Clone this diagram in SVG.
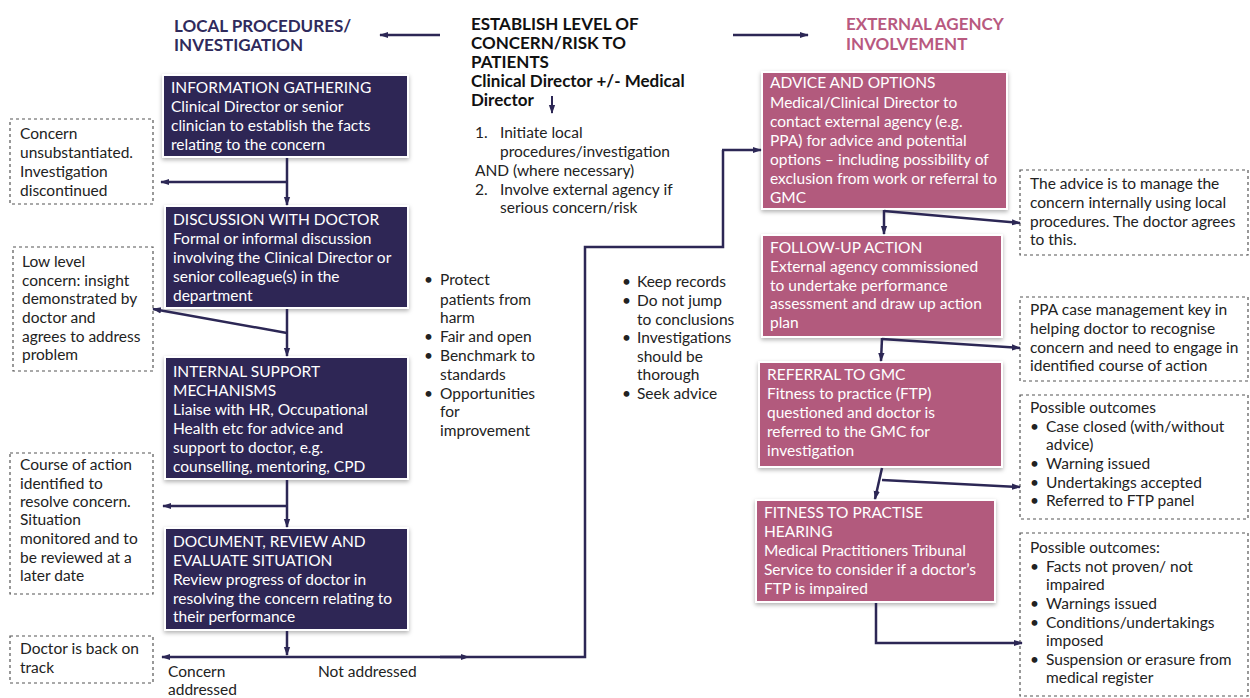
<svg xmlns="http://www.w3.org/2000/svg" width="1250" height="698" viewBox="0 0 1250 698">
<defs>
<filter id="sh" x="-10%" y="-10%" width="120%" height="130%">
<feDropShadow dx="0" dy="2" stdDeviation="2" flood-color="#000" flood-opacity="0.3"/>
</filter>
<marker id="ah" viewBox="0 0 10 10" refX="9" refY="5" markerWidth="9" markerHeight="9" orient="auto" markerUnits="userSpaceOnUse">
<path d="M0,1.5 L10,5 L0,8.5 z" fill="#2c2755"/>
</marker>
<marker id="ahm" viewBox="0 0 10 10" refX="5" refY="5" markerWidth="9" markerHeight="9" orient="auto" markerUnits="userSpaceOnUse">
<path d="M0,1.5 L10,5 L0,8.5 z" fill="#2c2755"/>
</marker>
<style>
text{font-family:Lato,"Liberation Sans",sans-serif;font-size:15.5px;}
.hd{font-weight:bold;font-size:17px;}
.nav{fill:#2d2654;stroke:#fff;stroke-width:2;filter:url(#sh);}
.pnk{fill:#b25a7d;stroke:#fff;stroke-width:2;filter:url(#sh);}
.wt{fill:#fff;}
.dk{fill:#222;}
.dash{fill:none;stroke:#555;stroke-width:1.2;stroke-dasharray:3 3;}
.ln{fill:none;stroke:#2c2755;stroke-width:2.5;}
.ar{marker-end:url(#ah);}
</style>
</defs>
<rect width="1250" height="698" fill="#fff"/>

<g id="headers">
<text class="hd" fill="#2f2a5c" x="174" y="32">LOCAL PROCEDURES/<tspan x="174" y="51">INVESTIGATION</tspan></text>
<text class="hd" fill="#b8597f" x="846" y="30">EXTERNAL AGENCY<tspan x="846" y="50">INVOLVEMENT</tspan></text>
</g>

<g id="establish">
<text class="hd" fill="#111" x="471" y="30">ESTABLISH LEVEL OF<tspan x="471" y="49">CONCERN/RISK TO</tspan><tspan x="471" y="68">PATIENTS</tspan><tspan x="471" y="87">Clinical Director +/- Medical</tspan><tspan x="471" y="106">Director</tspan></text>
<text class="dk" x="475" y="138">1.<tspan x="500">Initiate local</tspan><tspan x="500" y="157">procedures/investigation</tspan><tspan x="475" y="176">AND (where necessary)</tspan><tspan x="475" y="195">2.</tspan><tspan x="500" y="195">Involve external agency if</tspan><tspan x="500" y="213">serious concern/risk</tspan></text>
</g>

<g id="n-info">
<rect class="nav" x="163" y="75" width="245" height="82"/>
<text class="wt" x="171" y="93">INFORMATION GATHERING<tspan x="171" y="112">Clinical Director or senior</tspan><tspan x="171" y="131">clinician to establish the facts</tspan><tspan x="171" y="150">relating to the concern</tspan></text>
</g>
<g id="n-discussion">
<rect class="nav" x="165" y="206" width="243" height="102"/>
<text class="wt" x="173" y="225">DISCUSSION WITH DOCTOR<tspan x="173" y="244">Formal or informal discussion</tspan><tspan x="173" y="263">involving the Clinical Director or</tspan><tspan x="173" y="282">senior colleague(s) in the</tspan><tspan x="173" y="301">department</tspan></text>
</g>
<g id="n-internal">
<rect class="nav" x="165" y="357" width="243" height="122"/>
<text class="wt" x="173" y="377">INTERNAL SUPPORT<tspan x="173" y="396">MECHANISMS</tspan><tspan x="173" y="415">Liaise with HR, Occupational</tspan><tspan x="173" y="434">Health etc for advice and</tspan><tspan x="173" y="453">support to doctor, e.g.</tspan><tspan x="173" y="472">counselling, mentoring, CPD</tspan></text>
</g>
<g id="n-document">
<rect class="nav" x="165" y="528" width="243" height="102"/>
<text class="wt" x="173" y="547">DOCUMENT, REVIEW AND<tspan x="173" y="566">EVALUATE SITUATION</tspan><tspan x="173" y="585">Review progress of doctor in</tspan><tspan x="173" y="604">resolving the concern relating to</tspan><tspan x="173" y="622">their performance</tspan></text>
</g>

<g id="d-unsub">
<rect class="dash" x="10" y="119" width="143" height="85"/>
<text class="dk" x="20" y="139">Concern<tspan x="20" y="158">unsubstantiated.</tspan><tspan x="20" y="177">Investigation</tspan><tspan x="20" y="196">discontinued</tspan></text>
</g>
<g id="d-low">
<rect class="dash" x="13" y="247" width="140" height="124"/>
<text class="dk" x="22" y="267">Low level<tspan x="22" y="286">concern: insight</tspan><tspan x="22" y="304">demonstrated by</tspan><tspan x="22" y="323">doctor and</tspan><tspan x="22" y="342">agrees to address</tspan><tspan x="22" y="360">problem</tspan></text>
</g>
<g id="d-course">
<rect class="dash" x="10" y="453" width="143" height="141"/>
<text class="dk" x="20" y="470">Course of action<tspan x="20" y="489">identified to</tspan><tspan x="20" y="507">resolve concern.</tspan><tspan x="20" y="525">Situation</tspan><tspan x="20" y="544">monitored and to</tspan><tspan x="20" y="563">be reviewed at a</tspan><tspan x="20" y="581">later date</tspan></text>
</g>
<g id="d-track">
<rect class="dash" x="10" y="636" width="143" height="47"/>
<text class="dk" x="20" y="654">Doctor is back on<tspan x="20" y="673">track</tspan></text>
</g>

<g id="bullets-left">
<text class="dk" x="424" y="285">•<tspan x="440">Protect</tspan><tspan x="440" y="305">patients from</tspan><tspan x="440" y="323">harm</tspan><tspan x="424" y="342">•</tspan><tspan x="440" y="342">Fair and open</tspan><tspan x="424" y="361">•</tspan><tspan x="440" y="361">Benchmark to</tspan><tspan x="440" y="380">standards</tspan><tspan x="424" y="399">•</tspan><tspan x="440" y="399">Opportunities</tspan><tspan x="440" y="417">for</tspan><tspan x="440" y="436">improvement</tspan></text>
</g>
<g id="bullets-mid">
<text class="dk" x="622" y="287">•<tspan x="637">Keep records</tspan><tspan x="622" y="306">•</tspan><tspan x="637" y="306">Do not jump</tspan><tspan x="637" y="325">to conclusions</tspan><tspan x="622" y="343">•</tspan><tspan x="637" y="343">Investigations</tspan><tspan x="637" y="362">should be</tspan><tspan x="637" y="380">thorough</tspan><tspan x="622" y="399">•</tspan><tspan x="637" y="399">Seek advice</tspan></text>
</g>
<g id="labels">
<text class="dk" x="168" y="677">Concern<tspan x="168" y="695">addressed</tspan></text>
<text class="dk" x="318" y="677">Not addressed</text>
</g>

<g id="n-advice">
<rect class="pnk" x="762" y="72" width="245" height="137"/>
<text class="wt" x="770" y="88">ADVICE AND OPTIONS<tspan x="770" y="108">Medical/Clinical Director to</tspan><tspan x="770" y="127">contact external agency (e.g.</tspan><tspan x="770" y="146">PPA) for advice and potential</tspan><tspan x="770" y="165">options – including possibility of</tspan><tspan x="770" y="184">exclusion from work or referral to</tspan><tspan x="770" y="203">GMC</tspan></text>
</g>
<g id="n-followup">
<rect class="pnk" x="762" y="235" width="240" height="102"/>
<text class="wt" x="770" y="253">FOLLOW-UP ACTION<tspan x="770" y="272">External agency commissioned</tspan><tspan x="770" y="291">to undertake performance</tspan><tspan x="770" y="309">assessment and draw up action</tspan><tspan x="770" y="328">plan</tspan></text>
</g>
<g id="n-referral">
<rect class="pnk" x="759" y="362" width="243" height="105"/>
<text class="wt" x="767" y="380">REFERRAL TO GMC<tspan x="767" y="399">Fitness to practice (FTP)</tspan><tspan x="767" y="418">questioned and doctor is</tspan><tspan x="767" y="437">referred to the GMC for</tspan><tspan x="767" y="456">investigation</tspan></text>
</g>
<g id="n-fitness">
<rect class="pnk" x="756" y="500" width="239" height="102"/>
<text class="wt" x="764" y="518">FITNESS TO PRACTISE<tspan x="764" y="537">HEARING</tspan><tspan x="764" y="556">Medical Practitioners Tribunal</tspan><tspan x="764" y="575">Service to consider if a doctor’s</tspan><tspan x="764" y="594">FTP is impaired</tspan></text>
</g>

<g id="d-advice">
<rect class="dash" x="1020" y="170" width="228" height="85"/>
<text class="dk" x="1030" y="189">The advice is to manage the<tspan x="1030" y="208">concern internally using local</tspan><tspan x="1030" y="227">procedures. The doctor agrees</tspan><tspan x="1030" y="245">to this.</tspan></text>
</g>
<g id="d-ppa">
<rect class="dash" x="1020" y="297" width="228" height="84"/>
<text class="dk" x="1030" y="315">PPA case management key in<tspan x="1030" y="334">helping doctor to recognise</tspan><tspan x="1030" y="353">concern and need to engage in</tspan><tspan x="1030" y="371">identified course of action</tspan></text>
</g>
<g id="d-outcomes1">
<rect class="dash" x="1020" y="395" width="228" height="124"/>
<text class="dk" x="1030" y="413">Possible outcomes<tspan x="1030" y="432">•</tspan><tspan x="1046" y="432">Case closed (with/without</tspan><tspan x="1046" y="450">advice)</tspan><tspan x="1030" y="469">•</tspan><tspan x="1046" y="469">Warning issued</tspan><tspan x="1030" y="488">•</tspan><tspan x="1046" y="488">Undertakings accepted</tspan><tspan x="1030" y="506">•</tspan><tspan x="1046" y="506">Referred to FTP panel</tspan></text>
</g>
<g id="d-outcomes2">
<rect class="dash" x="1020" y="533" width="228" height="163"/>
<text class="dk" x="1030" y="553">Possible outcomes:<tspan x="1030" y="572">•</tspan><tspan x="1046" y="572">Facts not proven/ not</tspan><tspan x="1046" y="590">impaired</tspan><tspan x="1030" y="609">•</tspan><tspan x="1046" y="609">Warnings issued</tspan><tspan x="1030" y="628">•</tspan><tspan x="1046" y="628">Conditions/undertakings</tspan><tspan x="1046" y="646">imposed</tspan><tspan x="1030" y="665">•</tspan><tspan x="1046" y="665">Suspension or erasure from</tspan><tspan x="1046" y="683">medical register</tspan></text>
</g>

<g id="connectors">
<line class="ln ar" x1="440" y1="35" x2="380" y2="35"/>
<line class="ln ar" x1="733" y1="35" x2="808" y2="35"/>
<line class="ln ar" x1="552" y1="96" x2="552" y2="113" style="stroke-width:2"/>
<line class="ln ar" x1="287" y1="158" x2="287" y2="205"/>
<line class="ln ar" x1="287" y1="182" x2="161" y2="182"/>
<line class="ln ar" x1="287" y1="309" x2="287" y2="356"/>
<line class="ln ar" x1="287" y1="333" x2="153" y2="309"/>
<line class="ln ar" x1="287" y1="480" x2="287" y2="527"/>
<line class="ln ar" x1="287" y1="506" x2="163" y2="506"/>
<line class="ln ar" x1="287" y1="631" x2="287" y2="655"/>
<line class="ln ar" x1="287" y1="657" x2="162" y2="657"/>
<polyline class="ln" points="287,657 585,657 585,247 723,247 723,150"/>
<line class="ln" x1="440" y1="657" x2="465" y2="657" style="marker-end:url(#ahm)"/>
<line class="ln ar" x1="722" y1="150" x2="761" y2="150"/>
<line class="ln ar" x1="884" y1="210" x2="884" y2="234"/>
<line class="ln ar" x1="884" y1="211" x2="1020" y2="223"/>
<line class="ln ar" x1="882" y1="338" x2="881" y2="361"/>
<line class="ln ar" x1="882" y1="339" x2="1020" y2="348"/>
<line class="ln ar" x1="882" y1="468" x2="875" y2="499"/>
<line class="ln ar" x1="882" y1="480" x2="1020" y2="487"/>
<polyline class="ln ar" points="876,603 876,643 1022,643"/>
</g>
</svg>
